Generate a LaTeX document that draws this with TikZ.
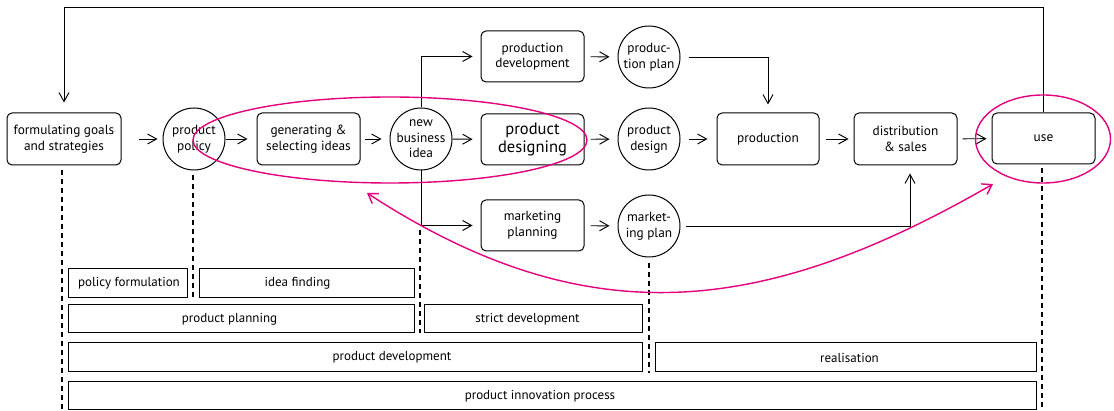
\documentclass[tikz,border=0pt]{standalone}
\usepackage{fontspec}
\setmainfont{PT Sans}
\usetikzlibrary{arrows.meta,calc}
\definecolor{mag}{RGB}{228,0,124}
\tikzset{
  txt/.style={font=\fontsize{13.3}{15.6}\selectfont, align=center, text=black},
  box/.style={txt, draw, line width=1pt, rounded corners=5pt, minimum width=103, minimum height=52, inner sep=0pt},
  circ/.style={txt, draw, line width=1pt, circle, minimum size=62, inner sep=0pt},
  band/.style={draw, line width=1pt, minimum height=29, inner sep=0pt},
  bandtext/.style={font=\fontsize{13}{15.6}\selectfont, text=black},
  arr/.style={line width=0.95pt, -{Straight Barb[length=9pt,width=10pt]}},
  sep/.style={line width=1.3pt, dash pattern=on 5pt off 4pt},
  magline/.style={draw=mag, line width=1.4pt},
  magarr/.style={mag, line width=1.4pt, {Straight Barb[length=9pt,width=12pt]}-{Straight Barb[length=9pt,width=12pt]}}
}
\begin{document}
\begin{tikzpicture}[x=1pt,y=-1pt]
\useasboundingbox (0,0) rectangle (1114,411);

% main row
\node[box, minimum width=114] (form) at (64,139) {formulating goals\\and strategies};
\node[circ] (pol) at (194,139) {product\\policy};
\node[box] (gen) at (308.5,139) {generating \&\\selecting ideas};
\node[circ] (nbi) at (421,139) {new\\business\\idea};
\node[box, minimum height=51] (pdev) at (532.5,56.5) {production\\development};
\node[box, minimum height=51, font=\fontsize{16.5}{18.3}\selectfont] (pdes) at (532.5,139.5) {product\\designing};
\node[box, minimum height=51] (mplan) at (532.5,225.5) {marketing\\planning};
\node[circ] (pplan) at (649,57) {produc-\\tion plan};
\node[circ] (pdesign) at (649,139) {product\\design};
\node[circ] (mkplan) at (649,226) {market-\\ing plan};
\node[box, minimum width=102] (prod) at (768,139) {production};
\node[box] (dist) at (905.5,139) {distribution\\\& sales};
\node[box, minimum height=51] (use) at (1043.5,138.5) {use};

% arrows
\draw[arr, shorten <=17pt, shorten >=5pt] (form) -- (pol);
\draw[arr, shorten >=9pt] (pol) -- (gen);
\draw[arr, shorten <=4pt, shorten >=8pt] (gen) -- (nbi);
\draw[arr, shorten >=8pt] (nbi) -- (pdes);
\draw[arr, shorten >=8pt] (nbi) |- (pdev);
\draw[arr, shorten >=8pt] (nbi) |- (mplan);
\draw[arr, shorten <=6pt, shorten >=8pt] (pdev) -- (pplan);
\draw[arr, shorten <=6pt, shorten >=8pt] (pdes) -- (pdesign);
\draw[arr, shorten <=6pt, shorten >=8pt] (mplan) -- (mkplan);
\draw[arr, shorten <=8pt, shorten >=9pt] (pdesign) -- (prod);
\draw[arr, shorten <=8pt, shorten >=8pt] (pplan) -| (prod);
\draw[arr, shorten <=5pt, shorten >=8pt] (mkplan) -| ([xshift=4.5pt]dist.south);
\draw[arr, shorten <=6pt, shorten >=5pt] (prod) -- (dist);
\draw[arr, shorten <=5pt, shorten >=5pt] (dist) -- (use);
\coordinate (top) at (1043.5,7);
\draw[arr, shorten >=10pt] (use.north) -- (top) -| (form.north);

% separators
\draw[sep] (62,170) -- (62,411);
\draw[sep] (193,175) -- (193,298);
\draw[sep] (420,230) -- (420,333);
\draw[sep] (649,263) -- (649,373);
\draw[sep] (1042,168) -- (1042,411);

% bands
\node[band, minimum width=119] (polf) at (127.5,283.5) {};
\node[bandtext] at (129,283.5) {policy formulation};
\node[band, minimum width=215] (idea) at (306.5,283.5) {};
\node[bandtext] at (297.5,283.5) {idea finding};
\node[band, minimum width=346, minimum height=28] (ppl) at (241,319) {};
\node[bandtext] at (229.5,319) {product planning};
\node[band, minimum width=218, minimum height=28] (strict) at (533,319) {};
\node[bandtext] at (527.5,319) {strict development};
\node[band, minimum width=574] (pdv) at (355,357.5) {};
\node[bandtext] at (392,357.5) {product development};
\node[band, minimum width=381] (real) at (845.5,357.5) {};
\node[bandtext] at (849.5,357.5) {realisation};
\node[band, minimum width=968, minimum height=28] (pip) at (552,396) {};
\node[bandtext] at (540,396) {product innovation process};

% magenta highlights
\draw[magline] (390,140) ellipse [x radius=197, y radius=43];
\draw[magline] (1043,139) ellipse [x radius=67.5, y radius=44];
\coordinate (fa) at (367,193);
\coordinate (ua) at (993,184);
\draw[magarr] (fa) .. controls (588,337) and (764,316) .. (ua);
\end{tikzpicture}
\end{document}
